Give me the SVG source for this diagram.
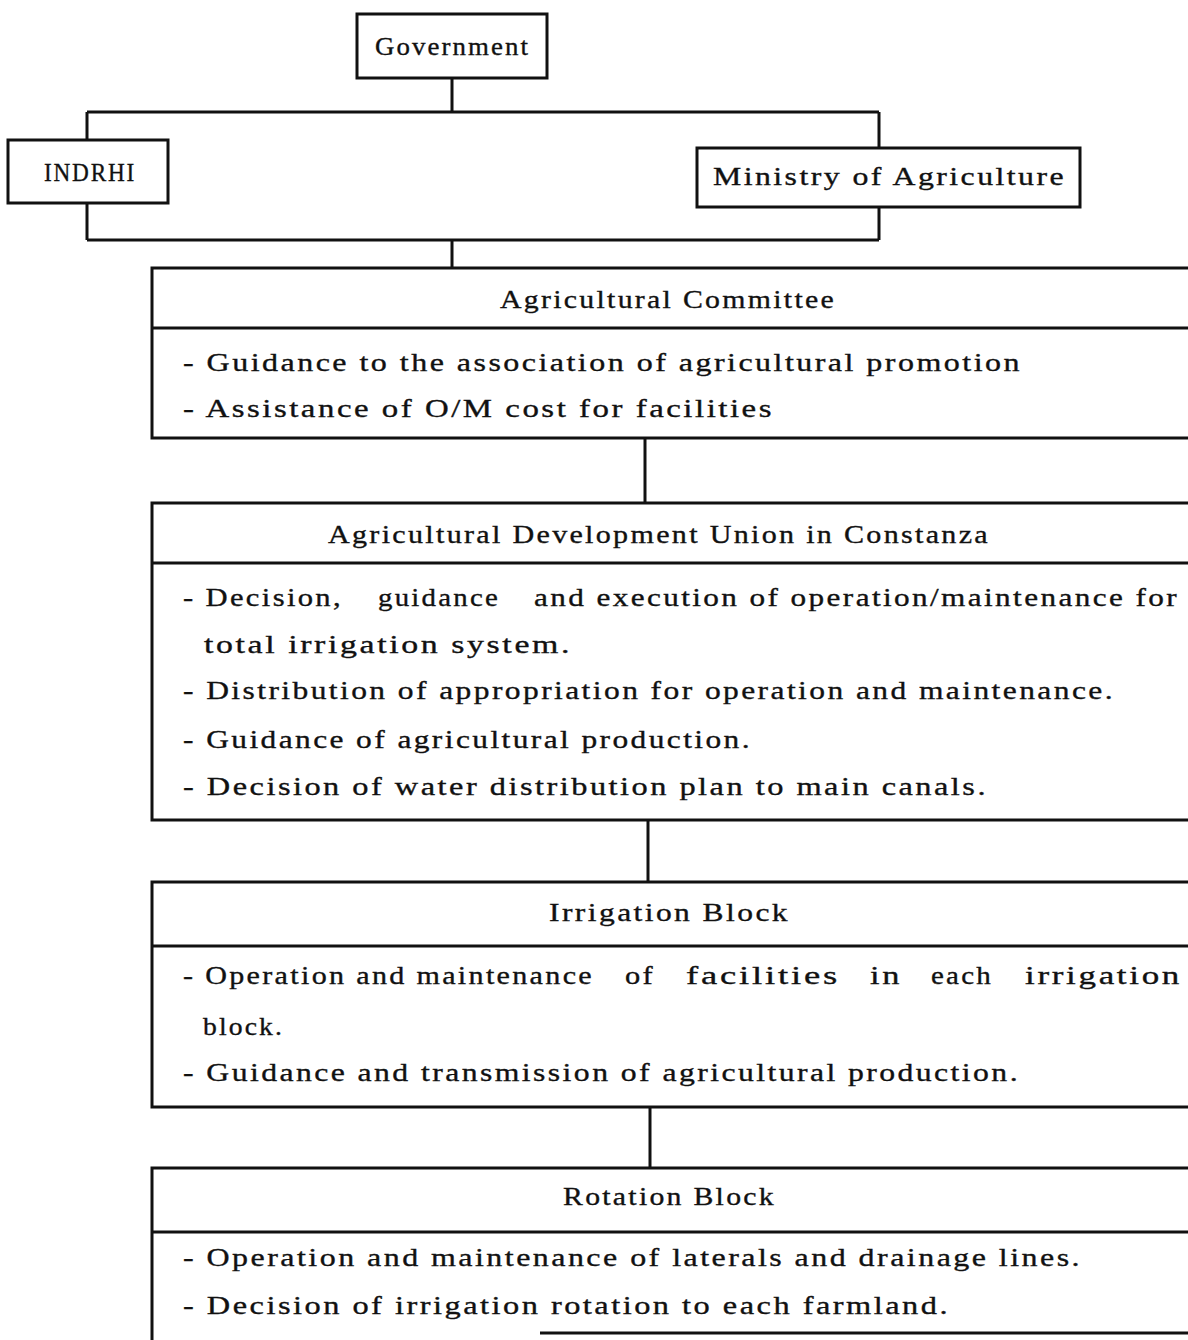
<svg xmlns="http://www.w3.org/2000/svg" width="1188" height="1340" viewBox="0 0 1188 1340">
<style>
.box{fill:none;stroke:#111;stroke-width:3}
.ln{fill:none;stroke:#111;stroke-width:3}
.t{font-family:"Liberation Serif","Times New Roman",serif;font-size:26px;letter-spacing:2px;fill:#111;stroke:#111;stroke-width:0.35}
</style>
<rect width="1188" height="1340" fill="#fff"/>
<g id="connectors">
<path class="ln" d="M452,78 V112 M87,112 H879 M87,112 V140 M879,112 V148"/>
<path class="ln" d="M87,203 V240 M879,207 V240 M87,240 H879 M452,240 V268"/>
<path class="ln" d="M645,438 V503"/>
<path class="ln" d="M648,820 V882"/>
<path class="ln" d="M650,1107 V1168"/>
</g>
<g id="government">
<rect class="box" x="357" y="14" width="190" height="64"/>
<text class="t" x="375" y="55" textLength="155" lengthAdjust="spacingAndGlyphs">Government</text>
</g>
<g id="indrhi">
<rect class="box" x="8" y="140" width="160" height="63"/>
<text class="t" x="44" y="181" textLength="92" lengthAdjust="spacingAndGlyphs">INDRHI</text>
</g>
<g id="ministry">
<rect class="box" x="697" y="148" width="383" height="59"/>
<text class="t" x="713" y="185" textLength="353" lengthAdjust="spacingAndGlyphs">Ministry of Agriculture</text>
</g>
<g id="agricultural-committee">
<rect class="box" x="152" y="268" width="1060" height="170"/>
<line class="ln" x1="152" y1="328" x2="1188" y2="328"/>
<text class="t" x="500" y="308" textLength="336" lengthAdjust="spacingAndGlyphs">Agricultural Committee</text>
<text class="t" x="183" y="371" textLength="839" lengthAdjust="spacingAndGlyphs">- Guidance to the association of agricultural promotion</text>
<text class="t" x="183" y="417" textLength="591" lengthAdjust="spacingAndGlyphs">- Assistance of O/M cost for facilities</text>
</g>
<g id="development-union">
<rect class="box" x="152" y="503" width="1060" height="317"/>
<line class="ln" x1="152" y1="563" x2="1188" y2="563"/>
<text class="t" x="328" y="543" textLength="662" lengthAdjust="spacingAndGlyphs">Agricultural Development Union in Constanza</text>
<text class="t" x="183" y="606" textLength="160" lengthAdjust="spacingAndGlyphs">- Decision,</text>
<text class="t" x="378" y="606" textLength="122" lengthAdjust="spacingAndGlyphs">guidance</text>
<text class="t" x="534" y="606" textLength="645" lengthAdjust="spacingAndGlyphs">and execution of operation/maintenance for</text>
<text class="t" x="204" y="653" textLength="368" lengthAdjust="spacingAndGlyphs">total irrigation system.</text>
<text class="t" x="183" y="699" textLength="932" lengthAdjust="spacingAndGlyphs">- Distribution of appropriation for operation and maintenance.</text>
<text class="t" x="183" y="748" textLength="569" lengthAdjust="spacingAndGlyphs">- Guidance of agricultural production.</text>
<text class="t" x="183" y="795" textLength="805" lengthAdjust="spacingAndGlyphs">- Decision of water distribution plan to main canals.</text>
</g>
<g id="irrigation-block">
<rect class="box" x="152" y="882" width="1060" height="225"/>
<line class="ln" x1="152" y1="946" x2="1188" y2="946"/>
<text class="t" x="549" y="921" textLength="241" lengthAdjust="spacingAndGlyphs">Irrigation Block</text>
<text class="t" x="183" y="984" textLength="411" lengthAdjust="spacingAndGlyphs">- Operation and maintenance</text>
<text class="t" x="625" y="984" textLength="30" lengthAdjust="spacingAndGlyphs">of</text>
<text class="t" x="686" y="984" textLength="154" lengthAdjust="spacingAndGlyphs">facilities</text>
<text class="t" x="870" y="984" textLength="32" lengthAdjust="spacingAndGlyphs">in</text>
<text class="t" x="931" y="984" textLength="62" lengthAdjust="spacingAndGlyphs">each</text>
<text class="t" x="1025" y="984" textLength="157" lengthAdjust="spacingAndGlyphs">irrigation</text>
<text class="t" x="203" y="1035" textLength="81" lengthAdjust="spacingAndGlyphs">block.</text>
<text class="t" x="183" y="1081" textLength="837" lengthAdjust="spacingAndGlyphs">- Guidance and transmission of agricultural production.</text>
</g>
<g id="rotation-block">
<path class="ln" d="M1188,1168 H152 V1340"/>
<path class="ln" d="M540,1333 H1188"/>
<line class="ln" x1="152" y1="1232" x2="1188" y2="1232"/>
<text class="t" x="563" y="1205" textLength="213" lengthAdjust="spacingAndGlyphs">Rotation Block</text>
<text class="t" x="183" y="1266" textLength="899" lengthAdjust="spacingAndGlyphs">- Operation and maintenance of laterals and drainage lines.</text>
<text class="t" x="183" y="1314" textLength="767" lengthAdjust="spacingAndGlyphs">- Decision of irrigation rotation to each farmland.</text>
</g>
</svg>
